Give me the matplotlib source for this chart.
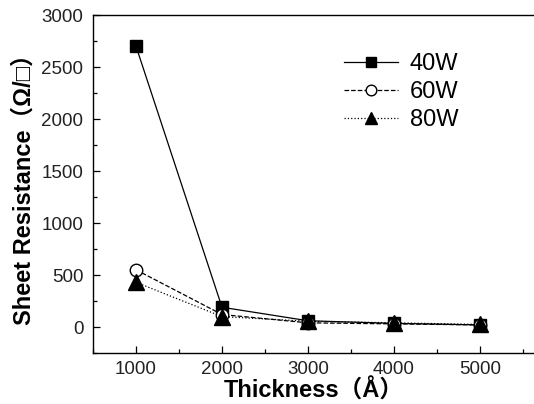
import matplotlib
matplotlib.use("Agg")
import matplotlib.pyplot as plt
from matplotlib.ticker import MultipleLocator

thickness = [1000, 2000, 3000, 4000, 5000]
r40 = [2700, 190, 60, 35, 20]
r60 = [550, 120, 40, 30, 20]
r80 = [430, 100, 55, 40, 25]

plt.rcParams['font.family'] = ['Liberation Sans', 'Noto Sans CJK SC', 'DejaVu Sans']

fig = plt.figure(figsize=(5.34, 4.04), dpi=100)
ax = fig.add_axes([93/534, 51/404, 441/534, 338/404])

ax.plot(thickness, r40, '-', color='black', lw=0.9, marker='s', ms=9, label='40W')
ax.plot(thickness, r60, '--', color='black', lw=0.9, marker='o', ms=9,
        mfc='white', mec='black', mew=1.0, label='60W')
ax.plot(thickness, r80, ':', color='black', lw=0.9, marker='^', ms=11, label='80W')

ax.set_xlim(500, 5628)
ax.set_ylim(-250, 3000)
ax.xaxis.set_major_locator(MultipleLocator(1000))
ax.xaxis.set_minor_locator(MultipleLocator(500))
ax.yaxis.set_major_locator(MultipleLocator(500))
ax.yaxis.set_minor_locator(MultipleLocator(250))
ax.tick_params(which='both', direction='in', top=False, right=False,
               labelsize=13.5, labelcolor='#222222')
ax.tick_params(axis='x', pad=6)
ax.tick_params(axis='y', pad=7)
ax.tick_params(which='major', length=5, width=0.9)
ax.tick_params(which='minor', length=3, width=0.9)
ax.spines['right'].set_visible(False)
for s in ['left', 'bottom', 'top']:
    ax.spines[s].set_linewidth(1.0)

ax.set_xlabel('Thickness（Å）', fontsize=17, fontweight='bold', labelpad=0)
ax.set_ylabel('Sheet Resistance（Ω/□）', fontsize=17, fontweight='bold', labelpad=4)

ax.legend(loc='upper left', bbox_to_anchor=(0.52, 0.95), frameon=False,
          fontsize=17, handlelength=2.3, handletextpad=0.5, labelspacing=0.25,
          markerscale=0.85)

fig.savefig('out.png', dpi=100)
